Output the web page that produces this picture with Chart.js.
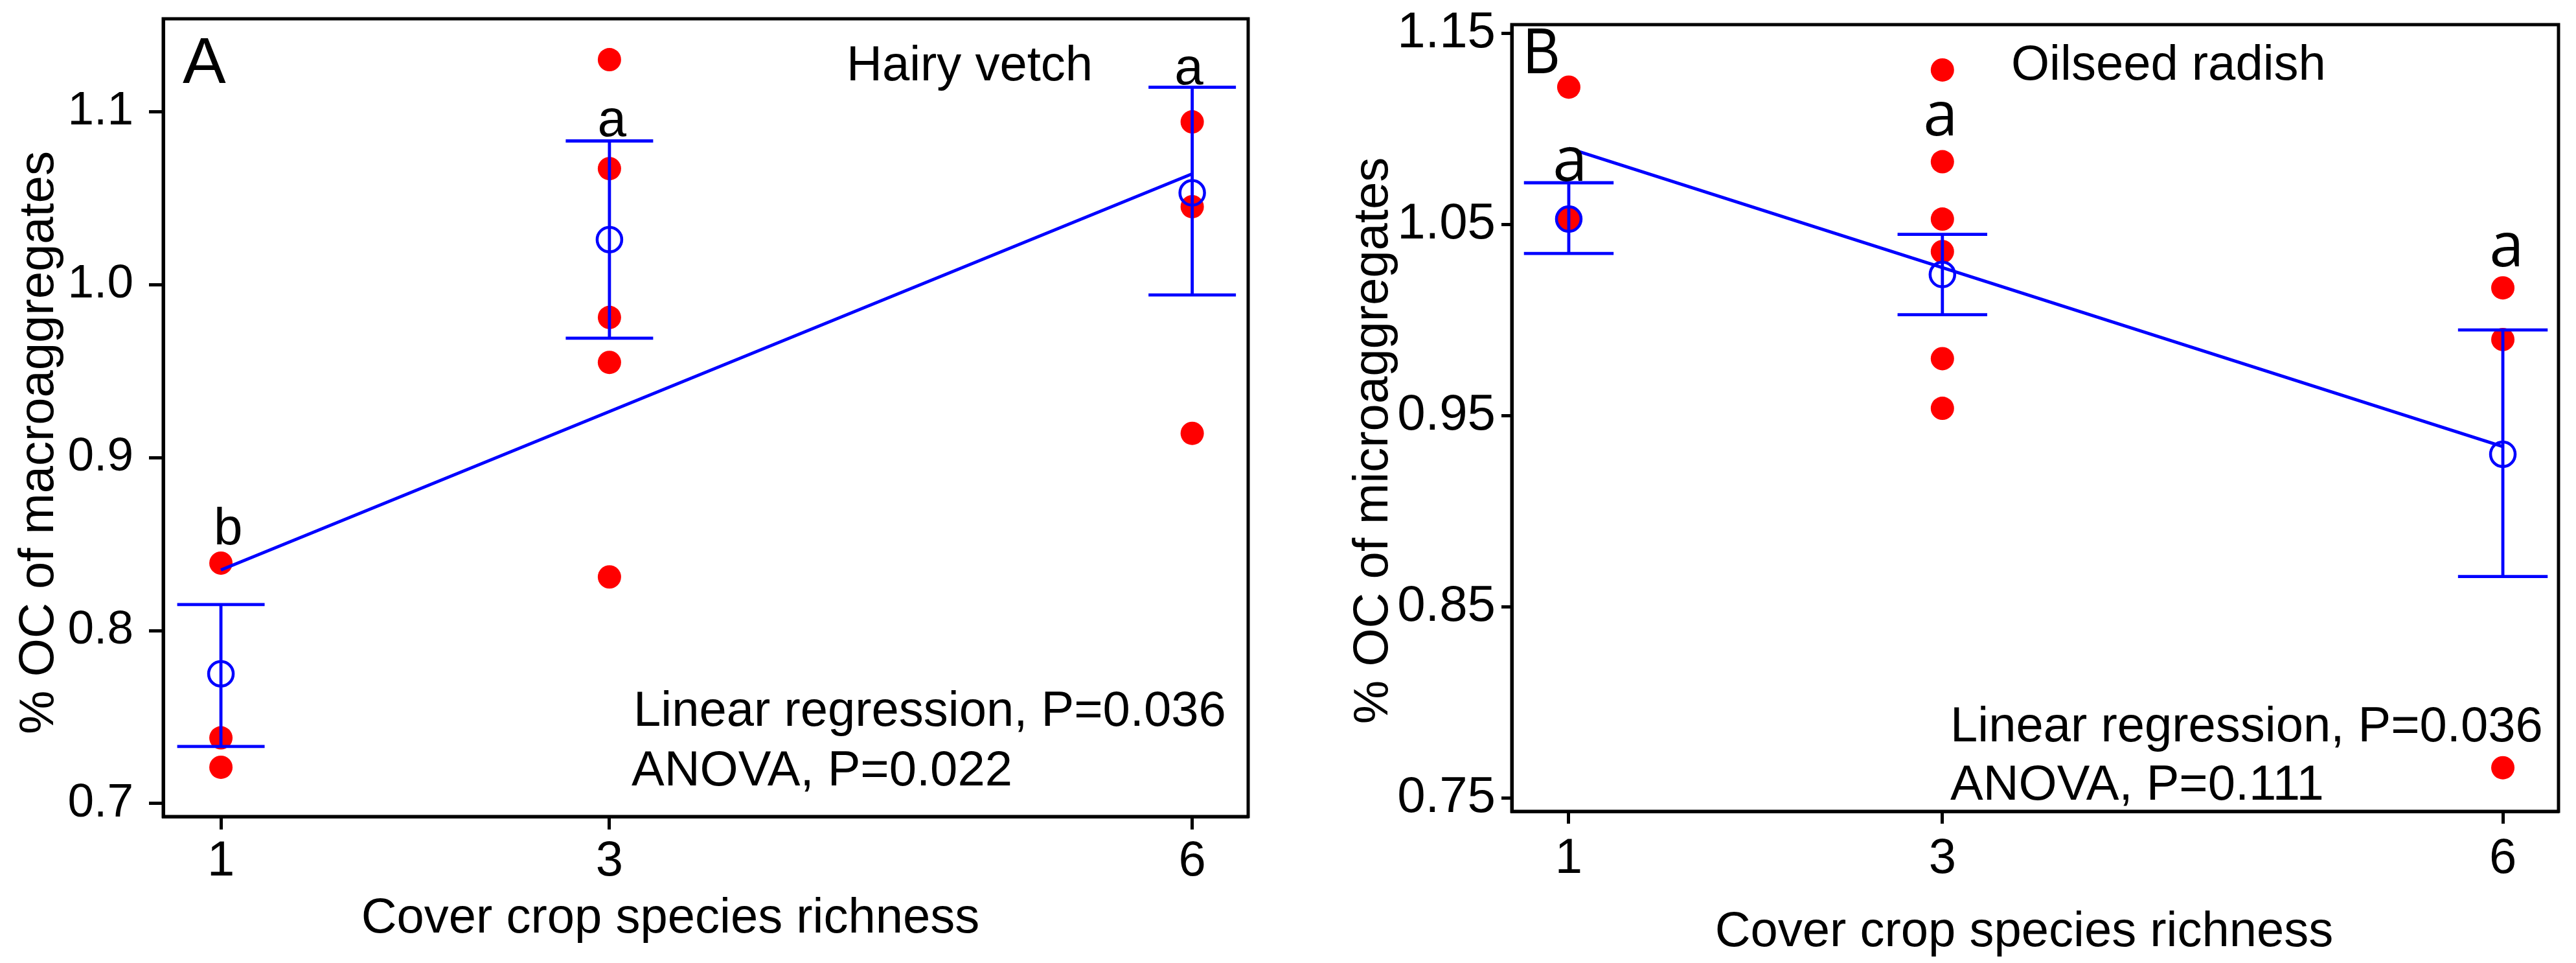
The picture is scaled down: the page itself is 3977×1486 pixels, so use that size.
<!DOCTYPE html>
<html>
<head>
<meta charset="utf-8">
<script src="https://cdn.jsdelivr.net/npm/chart.js@4.4.1/dist/chart.umd.min.js"></script>
<style>
  html, body { margin: 0; padding: 0; background: #ffffff; overflow: hidden; }
  #wrap { position: relative; width: 3977px; height: 1486px; background: #ffffff; }
  #ca { position: absolute; left: 0; top: 0; }
  #cb { position: absolute; left: 1990px; top: 0; }
</style>
</head>
<body>
<div id="wrap">
  <canvas id="ca" width="1990" height="1486"></canvas>
  <canvas id="cb" width="1987" height="1486"></canvas>
</div>
<script>
// ---------------- DATA ----------------
const richness = [1, 3, 6];
const xTickLabels = ['1', '3', '6'];

// Panel A: Hairy vetch, % OC of macroaggregates
const vetchPlotX  = [1, 1, 1, 3, 3, 3, 3, 3, 6, 6, 6];
const vetchPlotOC = [0.839, 0.738, 0.721, 1.130, 1.067, 0.981, 0.955, 0.831, 1.094, 1.045, 0.914];
const vetchMean   = [0.775, 1.026, 1.053];
const vetchLower  = [0.733, 0.969, 0.994];
const vetchUpper  = [0.815, 1.083, 1.114];
const vetchFitX   = [1, 6];
const vetchFitY   = [0.835, 1.064];
const vetchLetters = ['b', 'a', 'a'];
const vetchYTicks = [0.7, 0.8, 0.9, 1.0, 1.1];
const vetchYTickLabels = ['0.7', '0.8', '0.9', '1.0', '1.1'];

// Panel B: Oilseed radish, % OC of microaggregates
const radishPlotX  = [1, 1, 3, 3, 3, 3, 3, 3, 6, 6, 6];
const radishPlotOC = [1.122, 1.053, 1.131, 1.083, 1.053, 1.036, 0.980, 0.954, 1.017, 0.990, 0.766];
const radishMean   = [1.053, 1.024, 0.930];
const radishLower  = [1.035, 1.003, 0.866];
const radishUpper  = [1.072, 1.045, 0.995];
const radishFitX   = [1, 6];
const radishFitY   = [1.090, 0.934];
const radishLetters = ['a', 'a', 'a'];
const radishYTicks = [0.75, 0.85, 0.95, 1.05, 1.15];
const radishYTickLabels = ['0.75', '0.85', '0.95', '1.05', '1.15'];

// ---------------- STYLE ----------------
const FONT = "'Liberation Sans', Arial, Helvetica, sans-serif";
const NARROW = "'Liberation Sans Narrow', 'Arial Narrow', 'Liberation Sans', Arial, sans-serif";
const LETTER_B = "'Open Sans', 'Noto Sans', sans-serif";
const RED = '#ff0000';
const BLUE = '#0000ff';
const BLACK = '#000000';

// Error bars drawn right after the raw points (dataset 0)
const errorBarPlugin = {
  id: 'errorBars',
  afterDatasetDraw(chart, args, opts) {
    if (args.index !== 0) return;
    const xs = chart.scales.x, ys = chart.scales.y, ctx = chart.ctx;
    ctx.save();
    ctx.strokeStyle = opts.color;
    ctx.lineWidth = opts.width;
    ctx.lineCap = 'butt';
    opts.xs.forEach((xv, i) => {
      const px = xs.getPixelForValue(xv);
      const pl = xs.getPixelForValue(xv - opts.cap);
      const pr = xs.getPixelForValue(xv + opts.cap);
      const yt = ys.getPixelForValue(opts.upper[i]);
      const yb = ys.getPixelForValue(opts.lower[i]);
      ctx.beginPath();
      ctx.moveTo(px, yt); ctx.lineTo(px, yb);
      ctx.moveTo(pl, yt); ctx.lineTo(pr, yt);
      ctx.moveTo(pl, yb); ctx.lineTo(pr, yb);
      ctx.stroke();
    });
    ctx.restore();
  }
};

// Plot-region frame
const framePlugin = {
  id: 'frame',
  beforeDatasetsDraw(chart) {
    const a = chart.chartArea, ctx = chart.ctx;
    ctx.save();
    ctx.strokeStyle = BLACK;
    ctx.lineWidth = 5;
    ctx.strokeRect(a.left, a.top, a.right - a.left, a.bottom - a.top);
    ctx.restore();
  }
};

// Texts: panel letter, species, statistics, axis titles, significance letters
const textPlugin = {
  id: 'panelText',
  afterDraw(chart, args, opts) {
    const ctx = chart.ctx, xs = chart.scales.x, ys = chart.scales.y;
    ctx.save();
    ctx.fillStyle = BLACK;
    opts.items.forEach(it => {
      ctx.font = it.font;
      ctx.textAlign = it.align || 'left';
      ctx.textBaseline = 'alphabetic';
      let px = it.x, py = it.y;
      if (it.data) { px = xs.getPixelForValue(it.x); py = ys.getPixelForValue(it.y); }
      ctx.save();
      ctx.translate(px, py);
      if (it.rotate) ctx.rotate(-Math.PI / 2);
      if (it.sx) ctx.scale(it.sx, 1);
      ctx.fillText(it.text, 0, 0);
      ctx.restore();
    });
    ctx.restore();
  }
};

function makeChart(canvasId, p) {
  const points = p.plotX.map((xv, i) => ({ x: xv, y: p.plotY[i] }));
  const means = richness.map((xv, i) => ({ x: xv, y: p.mean[i] }));
  const fit = p.fitX.map((xv, i) => ({ x: xv, y: p.fitY[i] }));
  const letterItems = p.letters.map((t, i) => ({
    text: t, x: richness[i] + p.letterDx[i], y: p.letterY[i], data: true,
    align: 'center', font: p.letterFont
  }));
  return new Chart(document.getElementById(canvasId), {
    type: 'scatter',
    data: {
      datasets: [
        { label: 'plots', data: points, order: 3, showLine: false,
          pointRadius: 18, pointHoverRadius: 18, pointBackgroundColor: RED,
          pointBorderWidth: 0, pointBorderColor: RED },
        { label: 'fit', data: fit, order: 2, showLine: true, borderColor: BLUE,
          borderWidth: 4.8, pointRadius: 0, pointHoverRadius: 0, fill: false, tension: 0 },
        { label: 'mean', data: means, order: 1, showLine: false,
          pointRadius: 19, pointHoverRadius: 19, pointBackgroundColor: 'rgba(0,0,0,0)',
          pointBorderColor: BLUE, pointBorderWidth: 4.5 }
      ]
    },
    options: {
      responsive: false,
      animation: false,
      devicePixelRatio: 1,
      events: [],
      layout: { padding: { left: 0, top: p.padTop, right: p.padRight, bottom: 0 } },
      plugins: {
        legend: { display: false },
        tooltip: { enabled: false },
        errorBars: { xs: richness, upper: p.upper, lower: p.lower, cap: p.cap, color: BLUE, width: 4.8 },
        panelText: { items: p.texts.concat(letterItems) }
      },
      scales: {
        x: {
          type: 'linear', min: p.xMin, max: p.xMax,
          afterBuildTicks: s => { s.ticks = richness.map(v => ({ value: v })); },
          afterFit: s => { s.height = p.xAxisH; s.paddingLeft = 0; s.paddingRight = 0; },
          ticks: { callback: (v, i) => xTickLabels[i], color: BLACK, autoSkip: false, maxRotation: 0,
                   padding: p.xTickPad, font: { family: FONT, size: 76 } },
          grid: { display: true, drawOnChartArea: false, drawTicks: true, tickLength: p.xTickLen,
                  tickWidth: 5, tickColor: BLACK, color: BLACK },
          border: { display: true, color: BLACK, width: 5 },
          title: { display: false }
        },
        y: {
          type: 'linear', min: p.yMin, max: p.yMax,
          afterBuildTicks: s => { s.ticks = p.yTicks.map(v => ({ value: v })); },
          afterFit: s => { s.width = p.yAxisW; s.paddingTop = 0; s.paddingBottom = 0; },
          ticks: { callback: (v, i) => p.yTickLabels[i], color: BLACK, autoSkip: false,
                   padding: p.yTickPad, font: p.yTickFont },
          grid: { display: true, drawOnChartArea: false, drawTicks: true, tickLength: p.yTickLen,
                  tickWidth: 5, tickColor: BLACK, color: BLACK },
          border: { display: true, color: BLACK, width: 5 },
          title: { display: false }
        }
      }
    },
    plugins: [framePlugin, errorBarPlugin, textPlugin]
  });
}

makeChart('ca', {
  plotX: vetchPlotX, plotY: vetchPlotOC, mean: vetchMean, lower: vetchLower, upper: vetchUpper,
  fitX: vetchFitX, fitY: vetchFitY, letters: vetchLetters,
  letterDx: [0.037, 0.013, -0.017], letterY: [0.850, 1.0857, 1.1158],
  letterFont: '80px ' + FONT,
  yTicks: vetchYTicks, yTickLabels: vetchYTickLabels,
  xMin: 0.703, xMax: 6.288, yMin: 0.6925, yMax: 1.1536,
  padTop: 29, padRight: 63, xAxisH: 226, yAxisW: 252,
  xTickLen: 20, yTickLen: 22, xTickPad: 4, yTickPad: 24,
  yTickFont: { family: FONT, size: 73 },
  cap: 0.225,
  texts: [
    { text: 'A', x: 282, y: 128, font: '100px ' + NARROW },
    { text: 'Hairy vetch', x: 1307, y: 124, font: '76px ' + FONT },
    { text: 'Linear regression, P=0.036', x: 978, y: 1120, font: '76px ' + FONT },
    { text: 'ANOVA, P=0.022', x: 975, y: 1212, font: '76px ' + FONT },
    { text: '% OC of macroaggregates', x: 82, y: 683, rotate: true, align: 'center', font: '76px ' + FONT },
    { text: 'Cover crop species richness', x: 1035, y: 1439, align: 'center', font: '76px ' + FONT }
  ]
});

makeChart('cb', {
  plotX: radishPlotX, plotY: radishPlotOC, mean: radishMean, lower: radishLower, upper: radishUpper,
  fitX: radishFitX, fitY: radishFitY, letters: radishLetters,
  letterDx: [0.007, -0.01, 0.02], letterY: [1.073, 1.0966, 1.0284],
  letterFont: '96px ' + LETTER_B,
  yTicks: radishYTicks, yTickLabels: radishYTickLabels,
  xMin: 0.695, xMax: 6.298, yMin: 0.7432, yMax: 1.1547,
  padTop: 38, padRight: 27, xAxisH: 234, yAxisW: 344,
  xTickLen: 19, yTickLen: 16, xTickPad: 9, yTickPad: 9,
  yTickFont: { family: NARROW, size: 78 },
  cap: 0.24,
  texts: [
    { text: 'B', x: 362, y: 113, sx: 0.85, font: '100px ' + NARROW },
    { text: 'Oilseed radish', x: 1115, y: 123, font: '76px ' + FONT },
    { text: 'Linear regression, P=0.036', x: 1021, y: 1144, font: '76px ' + FONT },
    { text: 'ANOVA, P=0.111', x: 1021, y: 1234, font: '76px ' + FONT },
    { text: '% OC of microaggregates', x: 152, y: 680, rotate: true, align: 'center', font: '76px ' + FONT },
    { text: 'Cover crop species richness', x: 1135, y: 1460, align: 'center', font: '76px ' + FONT }
  ]
});
</script>
</body>
</html>
